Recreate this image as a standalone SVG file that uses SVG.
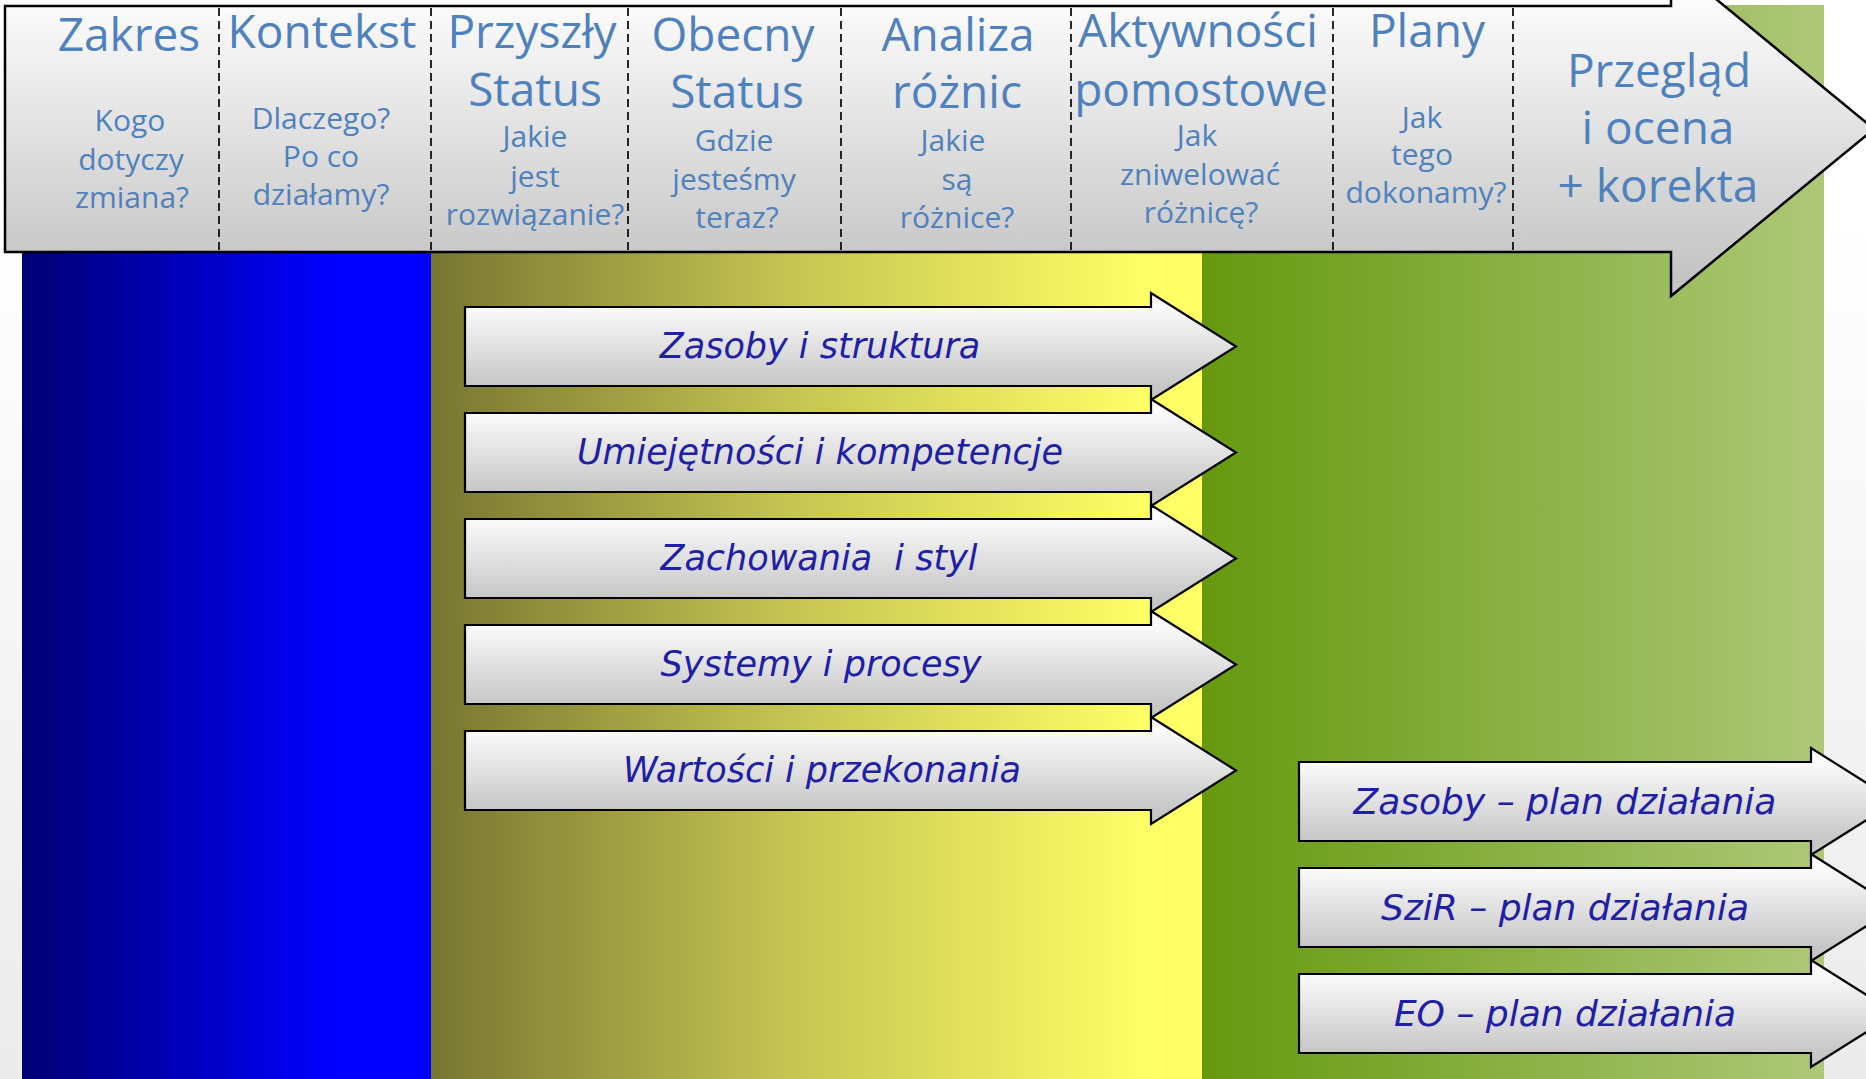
<svg xmlns="http://www.w3.org/2000/svg" width="1866" height="1079" viewBox="0 0 1866 1079">
  <defs>
    <linearGradient id="gPage" x1="0" y1="0" x2="0" y2="1">
      <stop offset="0.2" stop-color="#ffffff"/>
      <stop offset="1" stop-color="#ebebeb"/>
    </linearGradient>
    <linearGradient id="gBlue" gradientUnits="userSpaceOnUse" x1="22" y1="0" x2="335" y2="0">
      <stop offset="0" stop-color="#000073"/>
      <stop offset="1" stop-color="#0000ff"/>
    </linearGradient>
    <linearGradient id="gYellow" gradientUnits="userSpaceOnUse" x1="431" y1="0" x2="1150" y2="0">
      <stop offset="0" stop-color="#787630"/>
      <stop offset="0.5" stop-color="#c5c552"/>
      <stop offset="1" stop-color="#ffff66"/>
    </linearGradient>
    <linearGradient id="gGreen" gradientUnits="userSpaceOnUse" x1="1202" y1="0" x2="1824" y2="0">
      <stop offset="0" stop-color="#66990f"/>
      <stop offset="1" stop-color="#aec878"/>
    </linearGradient>
    <linearGradient id="gHeader" gradientUnits="userSpaceOnUse" x1="0" y1="6" x2="0" y2="275">
      <stop offset="0" stop-color="#fbfbfb"/>
      <stop offset="1" stop-color="#c4c4c4"/>
    </linearGradient>
    <linearGradient id="gArrow" x1="0" y1="0.13" x2="0" y2="0.87">
      <stop offset="0" stop-color="#fbfbfb"/>
      <stop offset="1" stop-color="#c6c6c6"/>
    </linearGradient>
    <path id="aUp" d="M0,0 H686 V-14 L771,39.5 L686,93 V79 H0 Z"/>
    <path id="aLow" d="M0,0 H512 V-14 L597,39.5 L512,93 V79 H0 Z"/>
  </defs>
  <style>
    .hdr { fill: url(#gHeader); stroke: #000; stroke-width: 2.5; }
    .div { stroke: #111; stroke-width: 1.8; stroke-dasharray: 8 5; fill: none; }
    .title { font-family: "Open Sans", "DejaVu Sans", sans-serif; font-size: 46px; fill: #4f81bd; text-anchor: middle; }
    .sub { font-family: "Open Sans", "DejaVu Sans", sans-serif; font-size: 30px; fill: #4f81bd; text-anchor: middle; }
    .arr { fill: url(#gArrow); stroke: #000; stroke-width: 2.2; }
    .lbl { font-family: "DejaVu Sans", "Liberation Sans", sans-serif; font-style: italic; font-size: 35px; fill: #2020a6; text-anchor: middle; }
    .lbl2 { font-family: "DejaVu Sans", "Liberation Sans", sans-serif; font-style: italic; font-size: 36px; fill: #2020a6; text-anchor: middle; }
  </style>

  <!-- backgrounds -->
  <rect x="0" y="0" width="1866" height="1079" fill="url(#gPage)"/>
  <rect x="22" y="252" width="409" height="827" fill="url(#gBlue)"/>
  <rect x="431" y="252" width="771" height="827" fill="url(#gYellow)"/>
  <rect x="1202" y="5" width="622" height="1074" fill="url(#gGreen)"/>

  <!-- header arrow -->
  <g id="header">
    <path class="hdr" d="M5,6 H1671 V-38 L1874,129 L1671,296 V252 H5 Z"/>
    <g class="div">
      <line x1="219" y1="8" x2="219" y2="251"/>
      <line x1="431" y1="8" x2="431" y2="251"/>
      <line x1="628" y1="8" x2="628" y2="251"/>
      <line x1="841" y1="8" x2="841" y2="251"/>
      <line x1="1071" y1="8" x2="1071" y2="251"/>
      <line x1="1333" y1="8" x2="1333" y2="251"/>
      <line x1="1513" y1="8" x2="1513" y2="251"/>
    </g>
  </g>

  <g id="col-zakres">
    <text class="title" x="129" y="51">Zakres</text>
    <text class="sub" x="130" y="131">Kogo</text>
    <text class="sub" x="131" y="170">dotyczy</text>
    <text class="sub" x="132" y="208">zmiana?</text>
  </g>
  <g id="col-kontekst">
    <text class="title" x="322" y="48">Kontekst</text>
    <text class="sub" x="321" y="129">Dlaczego?</text>
    <text class="sub" x="321" y="167">Po co</text>
    <text class="sub" x="321" y="205">działamy?</text>
  </g>
  <g id="col-przyszly">
    <text class="title" x="532" y="48">Przyszły</text>
    <text class="title" x="535" y="106">Status</text>
    <text class="sub" x="535" y="147">Jakie</text>
    <text class="sub" x="535" y="187">jest</text>
    <text class="sub" x="535" y="225">rozwiązanie?</text>
  </g>
  <g id="col-obecny">
    <text class="title" x="733" y="51">Obecny</text>
    <text class="title" x="737" y="108">Status</text>
    <text class="sub" x="734" y="151">Gdzie</text>
    <text class="sub" x="734" y="190">jesteśmy</text>
    <text class="sub" x="737" y="228">teraz?</text>
  </g>
  <g id="col-analiza">
    <text class="title" x="958" y="51">Analiza</text>
    <text class="title" x="957" y="108">różnic</text>
    <text class="sub" x="953" y="151">Jakie</text>
    <text class="sub" x="957" y="190">są</text>
    <text class="sub" x="957" y="228">różnice?</text>
  </g>
  <g id="col-aktywnosci">
    <text class="title" x="1198" y="47">Aktywności</text>
    <text class="title" x="1201" y="106">pomostowe</text>
    <text class="sub" x="1197" y="146">Jak</text>
    <text class="sub" x="1200" y="185">zniwelować</text>
    <text class="sub" x="1201" y="223">różnicę?</text>
  </g>
  <g id="col-plany">
    <text class="title" x="1427" y="47">Plany</text>
    <text class="sub" x="1422" y="128">Jak</text>
    <text class="sub" x="1422" y="165">tego</text>
    <text class="sub" x="1426" y="203">dokonamy?</text>
  </g>
  <g id="col-przeglad">
    <text class="title" x="1659" y="87">Przegląd</text>
    <text class="title" x="1658" y="144">i ocena</text>
    <text class="title" x="1658" y="202">+ korekta</text>
  </g>

  <!-- gap arrows -->
  <g id="a-zasoby" transform="translate(465,307)">
    <use href="#aUp" class="arr"/>
    <text class="lbl" x="355" y="51">Zasoby i struktura</text>
  </g>
  <g id="a-umiejetnosci" transform="translate(465,413)">
    <use href="#aUp" class="arr"/>
    <text class="lbl" x="355" y="51">Umiejętności i kompetencje</text>
  </g>
  <g id="a-zachowania" transform="translate(465,519)">
    <use href="#aUp" class="arr"/>
    <text class="lbl" x="354" y="51" xml:space="preserve">Zachowania  i styl</text>
  </g>
  <g id="a-systemy" transform="translate(465,625)">
    <use href="#aUp" class="arr"/>
    <text class="lbl" x="356" y="51">Systemy i procesy</text>
  </g>
  <g id="a-wartosci" transform="translate(465,731)">
    <use href="#aUp" class="arr"/>
    <text class="lbl" x="357" y="51">Wartości i przekonania</text>
  </g>

  <!-- plan arrows -->
  <g id="p-zasoby" transform="translate(1299,762)">
    <use href="#aLow" class="arr"/>
    <text class="lbl2" x="266" y="52">Zasoby – plan działania</text>
  </g>
  <g id="p-szir" transform="translate(1299,868)">
    <use href="#aLow" class="arr"/>
    <text class="lbl2" x="266" y="52">SziR – plan działania</text>
  </g>
  <g id="p-eo" transform="translate(1299,974)">
    <use href="#aLow" class="arr"/>
    <text class="lbl2" x="266" y="52">EO – plan działania</text>
  </g>

  <g id="connectors"/>
</svg>
